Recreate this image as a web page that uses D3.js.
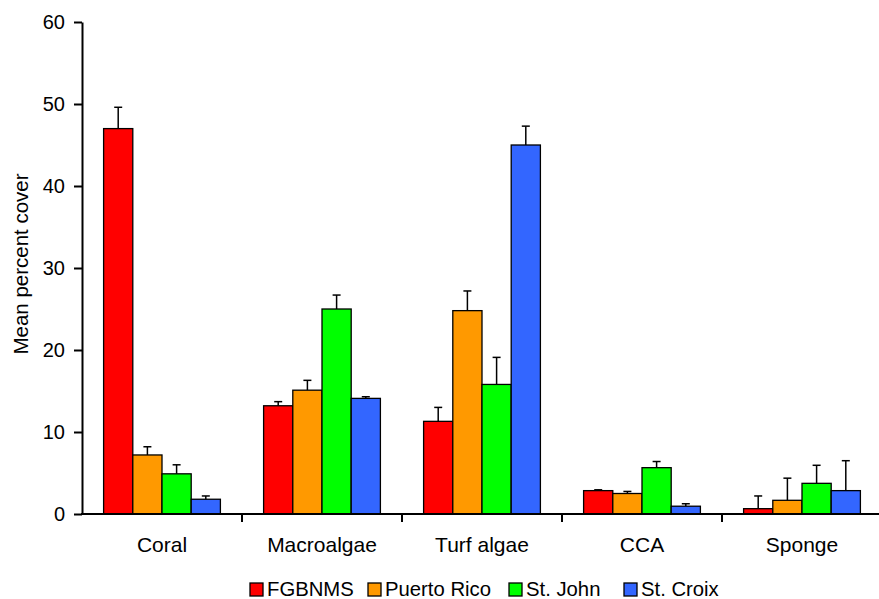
<!DOCTYPE html>
<html>
<head>
<meta charset="utf-8">
<script src="https://cdn.jsdelivr.net/npm/d3@7"></script>
<style>
  html, body { margin: 0; padding: 0; background: #fff; }
  text { font-family: Arial, "Liberation Sans", sans-serif; }
</style>
</head>
<body>
<svg id="chart" width="879" height="599"></svg>
<script>
const categories = ["Coral", "Macroalgae", "Turf algae", "CCA", "Sponge"];
const seriesNames = ["FGBNMS", "Puerto Rico", "St. John", "St. Croix"];
const seriesColors = ["#FF0000", "#FF9900", "#00FF00", "#3366FF"];
// mean values per series, in category order
const fgbnms     = [47.0, 13.2, 11.3, 2.85, 0.65];
const puertoRico = [7.2, 15.1, 24.8, 2.5, 1.67];
const stJohn     = [4.9, 25.0, 15.8, 5.65, 3.74];
const stCroix    = [1.8, 14.1, 45.0, 0.95, 2.85];
// upper error (SE) per series
const fgbnmsErr     = [2.6, 0.5, 1.7, 0.1, 1.55];
const puertoRicoErr = [1.0, 1.2, 2.4, 0.25, 2.7];
const stJohnErr     = [1.1, 1.7, 3.3, 0.75, 2.2];
const stCroixErr    = [0.4, 0.2, 2.3, 0.3, 3.65];
const yTicks = [0, 10, 20, 30, 40, 50, 60];

const values = [fgbnms, puertoRico, stJohn, stCroix];
const errors = [fgbnmsErr, puertoRicoErr, stJohnErr, stCroixErr];

const svg = d3.select("#chart");
const mLeft = 82, mRight = 882, mTop = 22, mBottom = 514;

const x0 = d3.scaleBand().domain(categories).range([mLeft, mRight])
  .paddingInner(0.27).paddingOuter(0.135);
const x1 = d3.scaleBand().domain(seriesNames).range([0, x0.bandwidth()]).padding(0);
const y = d3.scaleLinear().domain([0, 60]).range([mBottom, mTop]);

const data = [];
categories.forEach((c, ci) => {
  seriesNames.forEach((s, si) => {
    data.push({c, s, si, v: values[si][ci], e: errors[si][ci]});
  });
});

const g = svg.append("g");
g.selectAll("line.err").data(data).enter().append("line")
  .attr("x1", d => x0(d.c) + x1(d.s) + x1.bandwidth() / 2)
  .attr("x2", d => x0(d.c) + x1(d.s) + x1.bandwidth() / 2)
  .attr("y1", d => y(d.v))
  .attr("y2", d => y(d.v + d.e))
  .attr("stroke", "#000").attr("stroke-width", 1.5);
g.selectAll("line.cap").data(data).enter().append("line")
  .attr("x1", d => x0(d.c) + x1(d.s) + x1.bandwidth() / 2 - 4)
  .attr("x2", d => x0(d.c) + x1(d.s) + x1.bandwidth() / 2 + 4)
  .attr("y1", d => y(d.v + d.e))
  .attr("y2", d => y(d.v + d.e))
  .attr("stroke", "#000").attr("stroke-width", 1.5);

g.selectAll("rect.bar").data(data).enter().append("rect")
  .attr("x", d => x0(d.c) + x1(d.s))
  .attr("y", d => y(d.v))
  .attr("width", x1.bandwidth())
  .attr("height", d => y(0) - y(d.v))
  .attr("fill", d => seriesColors[d.si])
  .attr("stroke", "#000").attr("stroke-width", 1.3);

// y axis
const yAxis = d3.axisLeft(y).tickValues(yTicks).tickSize(8).tickSizeOuter(0).tickPadding(9);
const ya = svg.append("g").attr("transform", `translate(${mLeft},0)`).call(yAxis);
ya.select(".domain").attr("stroke", "#000").attr("stroke-width", 2);
ya.selectAll(".tick line").attr("stroke", "#000").attr("stroke-width", 2);
ya.selectAll(".tick text").attr("font-size", 20).attr("fill", "#000")
  .attr("font-family", "Arial, 'Liberation Sans', sans-serif");

// x axis: line plus ticks at category boundaries
const step = x0.step();
const boundaries = categories.map(c => x0(c) + x0.bandwidth() / 2 + step / 2);
const xa = svg.append("g");
xa.append("line").attr("x1", mLeft - 1).attr("x2", mRight).attr("y1", mBottom).attr("y2", mBottom)
  .attr("stroke", "#000").attr("stroke-width", 2);
xa.selectAll("line.tk").data(boundaries).enter().append("line")
  .attr("x1", d => d).attr("x2", d => d).attr("y1", mBottom).attr("y2", mBottom + 8)
  .attr("stroke", "#000").attr("stroke-width", 2);
xa.selectAll("text").data(categories).enter().append("text")
  .attr("x", d => x0(d) + x0.bandwidth() / 2)
  .attr("y", 552)
  .attr("text-anchor", "middle").attr("font-size", 21).attr("fill", "#000")
  .text(d => d);

// y title
svg.append("text")
  .attr("transform", "translate(28,264) rotate(-90)")
  .attr("text-anchor", "middle").attr("font-size", 20.5).attr("fill", "#000")
  .text("Mean percent cover");

// legend
const legendX = [250, 368, 509, 624];
const lg = svg.append("g");
seriesNames.forEach((s, i) => {
  lg.append("rect").attr("x", legendX[i]).attr("y", 583).attr("width", 13).attr("height", 13)
    .attr("fill", seriesColors[i]).attr("stroke", "#000").attr("stroke-width", 1.3);
  lg.append("text").attr("x", legendX[i] + 17).attr("y", 596)
    .attr("font-size", 20.3).attr("fill", "#000").text(s);
});
</script>
</body>
</html>
